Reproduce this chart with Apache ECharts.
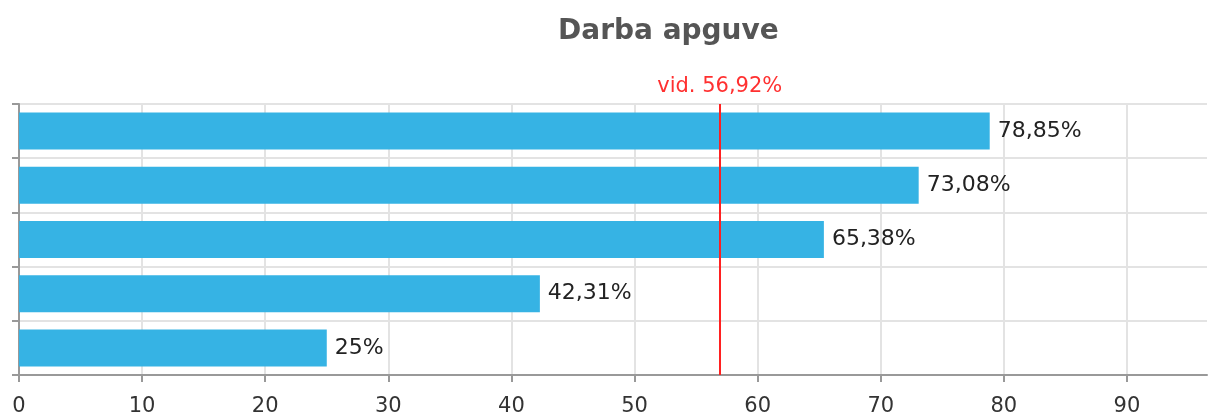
<!DOCTYPE html>
<html>
<head>
<meta charset="utf-8">
<script src="https://cdn.jsdelivr.net/npm/echarts@6/dist/echarts.min.js"></script>
<style>
html,body{margin:0;padding:0;background:#fff;}
#chart{width:1210px;height:418px;}
</style>
</head>
<body>
<div id="chart"></div>
<script>
var title = 'Darba apguve';
var categories = ['A', 'B', 'C', 'D', 'E'];
var values = [25, 42.31, 65.38, 73.08, 78.85];
var xTicks = [0, 10, 20, 30, 40, 50, 60, 70, 80, 90];
var avgLabelPrefix = 'vid. ';

function fmt(v) {
  return String(Math.round(v * 100) / 100).replace('.', ',') + '%';
}
var avg = values.reduce(function (a, b) { return a + b; }, 0) / values.length;

var gridColors = xTicks.map(function () { return '#e3e3e3'; });
gridColors.push('rgba(0,0,0,0)');

var chart = echarts.init(document.getElementById('chart'), null, {renderer: 'canvas'});
chart.setOption({
  animation: false,
  textStyle: {fontFamily: 'DejaVu Sans'},
  title: {
    text: title,
    left: 553,
    top: 13,
    textStyle: {fontFamily: 'DejaVu Sans', fontSize: 28, fontWeight: 'bold', color: '#555555'}
  },
  grid: {left: 19, right: 3, top: 104, bottom: 43, containLabel: false},
  xAxis: {
    type: 'value',
    min: 0,
    max: 96.5,
    interval: 10,
    axisLine: {show: true, lineStyle: {color: '#999999', width: 2}},
    axisTick: {show: true, length: 7, customValues: xTicks, lineStyle: {color: '#999999', width: 2}},
    axisLabel: {
      show: true, fontSize: 21, color: '#333333', margin: 21,
      fontFamily: 'DejaVu Sans',
      customValues: xTicks,
      formatter: function (v) { return String(v); }
    },
    splitLine: {show: true, lineStyle: {color: gridColors, width: 2}}
  },
  yAxis: {
    type: 'category',
    data: categories,
    axisLine: {show: true, lineStyle: {color: '#999999', width: 2}},
    axisTick: {show: true, length: 7, lineStyle: {color: '#999999', width: 2}},
    axisLabel: {show: false},
    splitLine: {show: true, lineStyle: {color: '#e3e3e3', width: 2}}
  },
  series: [{
    type: 'bar',
    data: values,
    barWidth: 37,
    itemStyle: {color: '#36b3e4'},
    label: {
      show: true,
      position: 'right',
      distance: 8,
      fontSize: 22,
      fontFamily: 'DejaVu Sans',
      color: '#222222',
      formatter: function (p) { return fmt(p.value); }
    },
    markLine: {
      silent: true,
      symbol: ['none', 'none'],
      lineStyle: {color: '#ff2020', width: 2, type: 'solid'},
      label: {
        show: true,
        position: 'end',
        distance: 7,
        fontSize: 21,
        fontFamily: 'DejaVu Sans',
        color: '#ff3030',
        formatter: function () { return avgLabelPrefix + fmt(avg); }
      },
      data: [{xAxis: avg}]
    }
  }]
});
</script>
</body>
</html>
